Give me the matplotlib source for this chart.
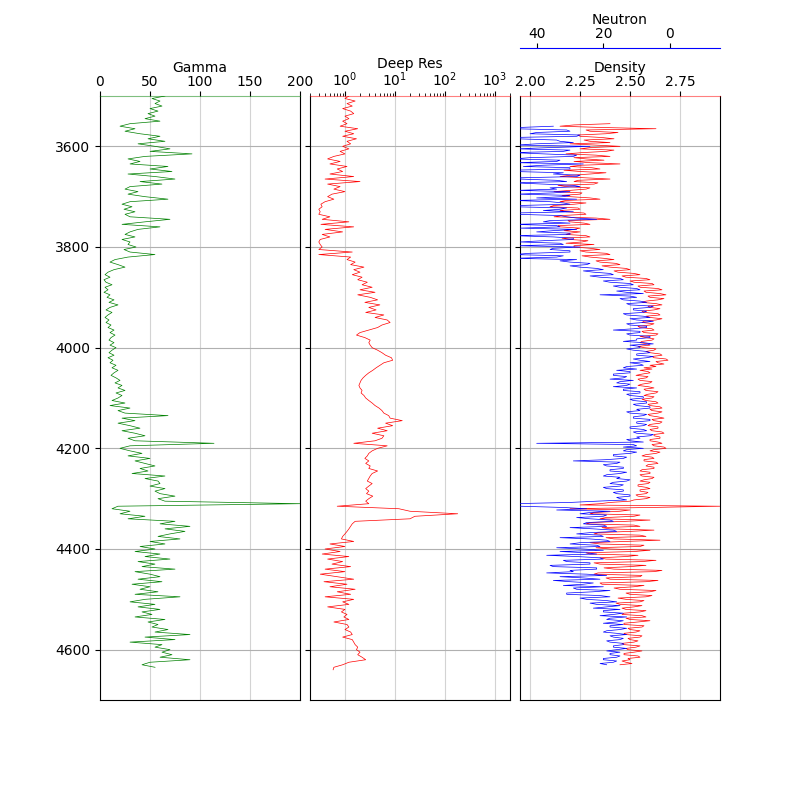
import numpy as np
import matplotlib
matplotlib.use("Agg")
import matplotlib.pyplot as plt

# ---- data ----
GR_TOP, GR_STEP = 3500.0, 5.0
GR = [65, 52, 60, 55, 62, 50, 58, 48, 55, 45,
      60, 30, 20, 35, 25, 40, 60, 48, 65, 38,
      55, 70, 50, 92, 45, 28, 40, 30, 68, 50,
      72, 28, 55, 75, 40, 62, 30, 25, 38, 28,
      45, 68, 30, 22, 32, 24, 35, 25, 30, 70,
      45, 22, 60, 38, 30, 25, 35, 22, 30, 28,
      36, 24, 30, 55, 28, 15, 10, 18, 25, 14,
      8, 5, 10, 4, 6, 12, 5, 8, 4, 10,
      7, 14, 9, 18, 10, 6, 12, 8, 5, 9,
      6, 11, 8, 14, 10, 15, 11, 9, 14, 10,
      16, 12, 9, 14, 8, 13, 10, 16, 12, 18,
      14, 11, 16, 20, 15, 22, 18, 25, 16, 22,
      18, 12, 25, 10, 30, 18, 25, 68, 22, 35,
      18, 30, 40, 22, 35, 45, 28, 35, 114, 30,
      20, 30, 42, 28, 50, 35, 45, 55, 40, 48,
      32, 65, 45, 58, 60, 50, 65, 55, 60, 75,
      58, 65, 200, 18, 12, 30, 20, 45, 28, 75,
      60, 90, 65, 85, 70, 58, 80, 50, 65, 40,
      55, 35, 60, 45, 70, 38, 55, 42, 75, 35,
      50, 60, 38, 62, 32, 50, 40, 58, 35, 80,
      45, 30, 55, 38, 60, 42, 52, 35, 65, 48,
      58, 52, 68, 55, 90, 45, 75, 30, 62, 55,
      70, 62, 72, 60, 90, 50, 42, 55]

RES_TOP, RES_STEP = 3500.0, 5.0
RES = [1.2, 1.0, 1.6, 1.1, 1.4, 0.9, 1.3, 1.5, 1.0, 1.2,
       0.9, 1.1, 0.8, 1.8, 1.0, 1.5, 0.9, 1.7, 1.1, 1.3,
       0.9, 1.2, 0.8, 1.0, 0.6, 0.45, 0.8, 0.5, 1.1, 0.7,
       0.9, 0.5, 1.5, 0.4, 2.0, 0.45, 0.8, 0.6, 1.0, 0.55,
       0.45, 0.6, 0.4, 0.33, 0.35, 0.3, 0.32, 0.3, 0.5, 0.35,
       1.2, 0.33, 1.5, 0.4, 0.9, 0.35, 0.5, 0.32, 0.3, 0.32,
       0.35, 0.3, 1.4, 0.3, 1.3, 1.1, 1.6, 1.3, 2.4, 1.5,
       2.0, 1.4, 2.2, 1.8, 2.8, 2.2, 3.5, 2.0, 4.0, 1.8,
       3.2, 4.5, 2.5, 5.0, 3.0, 4.2, 2.6, 6.0, 4.0, 7.0,
       8.0, 5.5, 4.5, 3.0, 2.0, 1.7, 2.5, 3.2, 3.0, 3.2,
       3.5, 4.5, 5.5, 6.5, 8.5, 9.0, 6.0, 5.0, 4.2, 3.6,
       3.0, 2.6, 2.3, 2.1, 2.0, 1.9, 2.0, 2.2, 2.1, 2.4,
       2.6, 3.0, 3.5, 4.0, 4.8, 5.5, 6.0, 7.5, 8.0, 14.0,
       6.5, 9.0, 4.5, 7.0, 3.5, 6.0, 5.5, 4.0, 1.5, 7.0,
       4.5, 3.5, 3.0, 2.8, 2.5, 3.0, 2.6, 3.2, 3.0, 4.5,
       3.5, 3.2, 3.0, 2.8, 3.5, 3.0, 2.6, 3.0, 2.7, 3.6,
       3.0, 2.6, 3.0, 0.7, 12.0, 20.0, 180.0, 25.0, 20.0, 1.6,
       1.4, 1.3, 1.2, 1.1, 1.0, 0.9, 0.85, 1.5, 0.5, 1.0,
       0.4, 0.8, 0.35, 1.2, 0.45, 0.9, 0.55, 1.3, 0.4, 1.0,
       0.32, 0.7, 1.5, 0.38, 1.1, 0.5, 1.6, 0.7, 1.3, 0.4,
       1.5, 0.9, 1.2, 0.45, 1.0, 0.85, 1.1, 0.95, 1.2, 0.6,
       1.1, 1.2, 1.0, 1.3, 1.4, 0.9, 1.4, 1.5, 1.6, 1.8,
       1.7, 2.0, 1.8, 2.2, 2.6, 1.2, 0.9, 0.6, 0.58]

RHOB_TOP, RHOB_STEP = 3555.0, 2.5
RHOB = [2.40, 2.22, 2.15, 2.35, 2.63, 2.28, 2.30, 2.44, 2.38, 2.24,
        2.25, 2.36, 2.42, 2.27, 2.30, 2.40, 2.20, 2.33, 2.45, 2.30,
        2.25, 2.42, 2.38, 2.26, 2.18, 2.33, 2.40, 2.22, 2.28, 2.37,
        2.22, 2.30, 2.45, 2.26, 2.20, 2.31, 2.35, 2.17, 2.25, 2.38,
        2.30, 2.20, 2.15, 2.27, 2.40, 2.24, 2.22, 2.34, 2.32, 2.14,
        2.18, 2.30, 2.28, 2.20, 2.12, 2.26, 2.25, 2.16, 2.20, 2.30,
        2.35, 2.18, 2.15, 2.28, 2.22, 2.12, 2.10, 2.24, 2.25, 2.15,
        2.18, 2.27, 2.28, 2.16, 2.12, 2.33, 2.40, 2.19, 2.20, 2.27,
        2.30, 2.14, 2.15, 2.25, 2.22, 2.17, 2.25, 2.20, 2.18, 2.28,
        2.30, 2.16, 2.20, 2.29, 2.26, 2.18, 2.32, 2.22, 2.22, 2.30,
        2.35, 2.25, 2.28, 2.38, 2.40, 2.26, 2.30, 2.37, 2.42, 2.33,
        2.35, 2.43, 2.45, 2.36, 2.40, 2.48, 2.50, 2.42, 2.44, 2.52,
        2.55, 2.46, 2.48, 2.58, 2.60, 2.50, 2.52, 2.61, 2.62, 2.54,
        2.55, 2.64, 2.66, 2.57, 2.58, 2.65, 2.68, 2.59, 2.60, 2.67,
        2.64, 2.58, 2.56, 2.63, 2.66, 2.59, 2.60, 2.65, 2.62, 2.56,
        2.57, 2.64, 2.65, 2.58, 2.60, 2.66, 2.63, 2.57, 2.56, 2.62,
        2.60, 2.54, 2.55, 2.61, 2.62, 2.56, 2.57, 2.64, 2.63, 2.55,
        2.58, 2.62, 2.61, 2.56, 2.55, 2.59, 2.60, 2.54, 2.57, 2.63,
        2.62, 2.58, 2.60, 2.65, 2.66, 2.61, 2.62, 2.68, 2.69, 2.63,
        2.64, 2.67, 2.60, 2.63, 2.57, 2.61, 2.55, 2.59, 2.60, 2.56,
        2.53, 2.59, 2.58, 2.54, 2.55, 2.61, 2.60, 2.56, 2.54, 2.59,
        2.62, 2.57, 2.58, 2.64, 2.63, 2.59, 2.57, 2.62, 2.61, 2.56,
        2.58, 2.63, 2.64, 2.59, 2.60, 2.65, 2.66, 2.60, 2.61, 2.66,
        2.64, 2.59, 2.60, 2.64, 2.67, 2.61, 2.62, 2.66, 2.65, 2.60,
        2.59, 2.64, 2.64, 2.60, 2.61, 2.66, 2.67, 2.62, 2.62, 2.65,
        2.65, 2.60, 2.60, 2.64, 2.66, 2.61, 2.62, 2.67, 2.68, 2.62,
        2.60, 2.65, 2.63, 2.58, 2.56, 2.61, 2.62, 2.57, 2.57, 2.63,
        2.64, 2.59, 2.58, 2.62, 2.62, 2.56, 2.55, 2.60, 2.60, 2.55,
        2.56, 2.62, 2.61, 2.57, 2.55, 2.60, 2.59, 2.54, 2.54, 2.58,
        2.60, 2.55, 2.55, 2.59, 2.58, 2.53, 2.54, 2.60, 2.58, 2.52,
        2.50, 2.40, 2.35, 2.25, 2.95, 2.60, 2.20, 2.50, 2.45, 2.32,
        2.30, 2.55, 2.52, 2.38, 2.35, 2.60, 2.48, 2.30, 2.28, 2.52,
        2.55, 2.36, 2.40, 2.62, 2.50, 2.34, 2.32, 2.55, 2.58, 2.38,
        2.42, 2.65, 2.48, 2.30, 2.35, 2.57, 2.55, 2.33, 2.40, 2.60,
        2.52, 2.28, 2.30, 2.54, 2.48, 2.35, 2.38, 2.63, 2.56, 2.32,
        2.35, 2.58, 2.50, 2.37, 2.42, 2.66, 2.62, 2.34, 2.32, 2.56,
        2.55, 2.38, 2.40, 2.64, 2.58, 2.35, 2.36, 2.57, 2.52, 2.42,
        2.45, 2.63, 2.60, 2.48, 2.50, 2.61, 2.58, 2.44, 2.48, 2.57,
        2.55, 2.43, 2.45, 2.56, 2.52, 2.46, 2.48, 2.58, 2.55, 2.47,
        2.46, 2.56, 2.58, 2.48, 2.50, 2.60, 2.54, 2.47, 2.47, 2.57,
        2.56, 2.49, 2.50, 2.55, 2.53, 2.47, 2.48, 2.56, 2.55, 2.49,
        2.50, 2.54, 2.52, 2.46, 2.47, 2.55, 2.53, 2.48, 2.49, 2.56,
        2.52, 2.47, 2.47, 2.54, 2.55, 2.49, 2.50, 2.46, 2.48, 2.51,
        2.45]

NPHI_TOP, NPHI_STEP = 3560.0, 2.5
NPHI = [35, 45, 47, 31, 30, 40, 42, 27, 28, 48,
        46, 34, 33, 29, 40, 46, 24, 36, 46, 30,
        32, 47, 38, 28, 29, 42, 47, 33, 34, 46,
        26, 38, 44, 30, 30, 48, 47, 32, 35, 27,
        28, 45, 45, 34, 31, 47, 38, 29, 27, 36,
        34, 46, 30, 35, 46, 30, 32, 40, 28, 47,
        36, 32, 30, 45, 47, 31, 33, 38, 29, 47,
        46, 33, 31, 28, 22, 36, 38, 30, 47, 34,
        33, 45, 28, 35, 40, 30, 30, 47, 35, 29,
        29, 38, 45, 33, 32, 46, 27, 35, 36, 30,
        30, 42, 47, 32, 34, 47, 28, 33, 30, 24,
        25, 30, 27, 22, 20, 26, 23, 18, 17, 24,
        21, 15, 14, 20, 18, 12, 11, 17, 15, 10,
        9, 16, 13, 8, 21, 12, 10, 15, 14, 9,
        7, 13, 12, 5, 6, 11, 11, 7, 8, 14,
        13, 8, 6, 12, 10, 5, 8, 13, 12, 7,
        7, 11, 17, 9, 9, 13, 12, 6, 6, 10,
        10, 14, 8, 5, 12, 9, 9, 13, 11, 7,
        6, 10, 10, 5, 7, 11, 9, 6, 12, 9,
        8, 13, 14, 10, 16, 12, 12, 17, 17, 13,
        14, 18, 11, 15, 16, 12, 13, 17, 10, 14,
        14, 9, 9, 13, 12, 8, 8, 12, 11, 7,
        7, 11, 10, 6, 6, 10, 9, 13, 12, 7,
        8, 11, 11, 6, 6, 10, 10, 7, 8, 12,
        12, 8, 7, 11, 10, 5, 6, 10, 9, 13,
        12, 8, 40, 11, 10, 14, 8, 13, 14, 10,
        12, 17, 17, 13, 14, 19, 29, 15, 16, 20,
        19, 14, 14, 18, 18, 13, 15, 19, 20, 15,
        16, 12, 13, 17, 18, 14, 15, 20, 19, 14,
        14, 17, 16, 12, 12, 16, 15, 13, 22, 30,
        47, 48, 45, 32, 25, 34, 18, 24, 27, 19,
        20, 28, 24, 18, 17, 25, 26, 20, 19, 30,
        23, 17, 16, 24, 28, 21, 20, 33, 24, 19,
        18, 27, 30, 22, 21, 34, 26, 20, 33, 25,
        22, 37, 28, 21, 20, 32, 31, 24, 24, 36,
        35, 22, 22, 30, 29, 37, 25, 19, 33, 26,
        21, 35, 30, 23, 26, 32, 20, 29, 28, 18,
        23, 31, 31, 21, 18, 27, 25, 19, 16, 24,
        22, 15, 19, 23, 15, 20, 20, 14, 17, 21,
        13, 18, 19, 14, 16, 20, 14, 18, 18, 13,
        15, 19, 20, 16, 13, 18, 17, 14, 15, 19,
        18, 14, 14, 17, 17, 13, 16, 19, 15, 18,
        18, 15, 16, 20, 20, 16, 17, 21, 19]

GR_TICKS = [0, 50, 100, 150, 200]
DEN_TICKS = [2.00, 2.25, 2.50, 2.75]
NEU_TICKS = [40, 20, 0]
DEPTH_TICKS = [3600, 3800, 4000, 4200, 4400, 4600]


def depths(top, step, n):
    return top + step * np.arange(n)


gr_d = depths(GR_TOP, GR_STEP, len(GR))
res_d = depths(RES_TOP, RES_STEP, len(RES))
rhob_d = depths(RHOB_TOP, RHOB_STEP, len(RHOB))
nphi_d = depths(NPHI_TOP, NPHI_STEP, len(NPHI))

fig = plt.figure(figsize=(8, 8), dpi=100)
ax1 = plt.subplot2grid((1, 3), (0, 0))
ax2 = plt.subplot2grid((1, 3), (0, 1), sharey=ax1)
ax3 = plt.subplot2grid((1, 3), (0, 2), sharey=ax1)
ax4 = ax3.twiny()
fig.subplots_adjust(left=0.125, right=0.9, top=0.88, bottom=0.125, wspace=0.05)

ax1.plot(GR, gr_d, color="green", lw=0.5)
ax1.set_xlim(0, 200)
ax1.set_xticks(GR_TICKS)
ax1.set_xlabel("Gamma", labelpad=2)
ax1.spines["top"].set_edgecolor((0.0, 0.5, 0.0, 0.5))

ax2.plot(RES, res_d, color="red", lw=0.5)
ax2.set_xscale("log")
ax2.set_xlim(0.2, 2000)
ax2.set_xlabel("Deep Res", labelpad=2)
ax2.spines["top"].set_edgecolor((1.0, 0.0, 0.0, 0.5))

ax3.plot(RHOB, rhob_d, color="red", lw=0.5)
ax3.set_xlim(1.95, 2.95)
ax3.set_xticks(DEN_TICKS)
ax3.set_xlabel("Density", labelpad=2)
ax3.spines["top"].set_edgecolor((1.0, 0.0, 0.0, 0.5))

ax4.plot(NPHI, nphi_d, color="blue", lw=0.5)
ax4.set_xlim(45, -15)
ax4.set_xticks(NEU_TICKS)
ax4.set_xlabel("Neutron", labelpad=2)
ax4.spines["top"].set_position(("axes", 1.08))
ax4.spines["top"].set_edgecolor("blue")
ax4.tick_params(axis="x", pad=1.5)
for s in ["left", "right", "bottom"]:
    ax4.spines[s].set_visible(False)

for ax in [ax1, ax2, ax3]:
    ax.set_ylim(4700, 3500)
    ax.xaxis.grid(True, which="major", color="lightgrey", linestyle="-")
    ax.yaxis.grid(True, which="major", color="#b0b0b0", linestyle="-")
    ax.xaxis.set_ticks_position("top")
    ax.xaxis.set_label_position("top")
    ax.tick_params(axis="x", pad=1.5)
    ax.set_axisbelow(True)

ax1.set_yticks(DEPTH_TICKS)
plt.setp(ax2.get_yticklabels(), visible=False)
plt.setp(ax3.get_yticklabels(), visible=False)

fig.savefig("out.png", dpi=100)
